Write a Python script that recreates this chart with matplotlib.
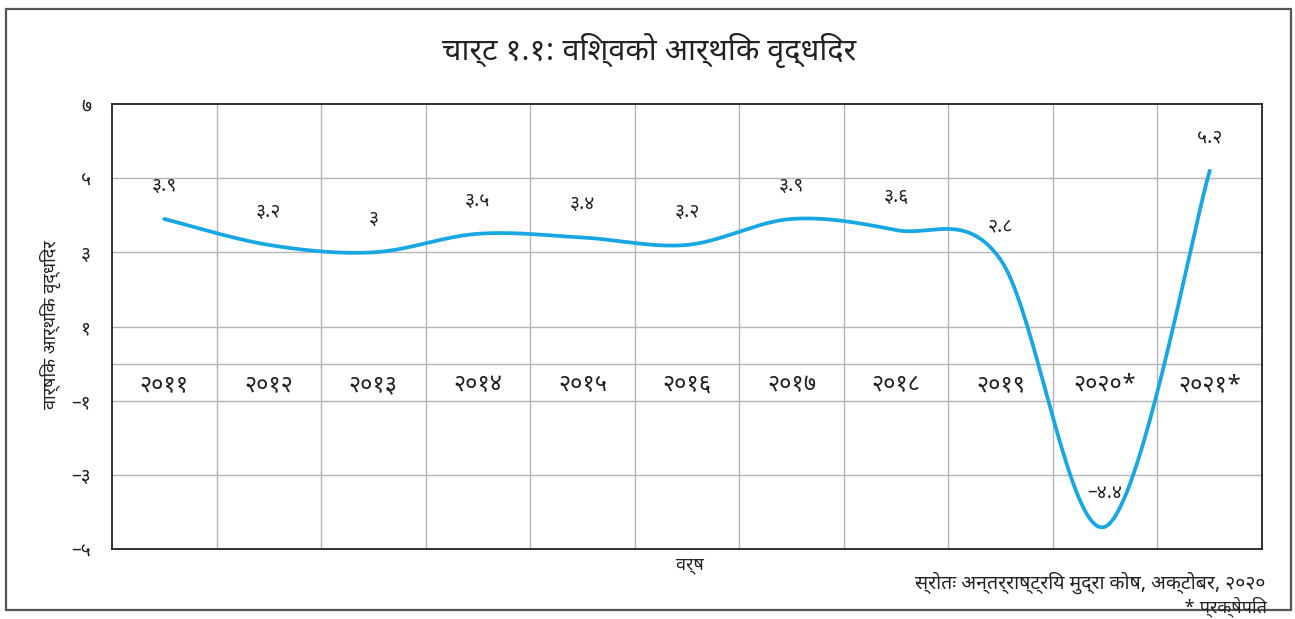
import matplotlib
matplotlib.use("Agg")
import matplotlib.pyplot as plt
import matplotlib.patches as patches
import numpy as np

# ---- data ----
years = [2011, 2012, 2013, 2014, 2015, 2016, 2017, 2018, 2019, 2020, 2021]
year_labels = ["२०११", "२०१२", "२०१३", "२०१४", "२०१५", "२०१६", "२०१७", "२०१८", "२०१९", "२०२०*", "२०२१*"]
growth = [3.9, 3.2, 3.0, 3.5, 3.4, 3.2, 3.9, 3.6, 2.8, -4.4, 5.2]
value_labels = ["३.९", "३.२", "३", "३.५", "३.४", "३.२", "३.९", "३.६", "२.८", "–४.४", "५.२"]
y_ticks = [-5, -3, -1, 1, 3, 5, 7]
y_tick_labels = ["–५", "–३", "–१", "१", "३", "५", "७"]
y_grid = [-3, -1, 0, 1, 3, 5]

title = "चार्ट १.१: विश्वको आर्थिक वृद्धिदर"
ylabel = "वार्षिक आर्थिक वृद्धिदर"
xlabel = "वर्ष"
source = "स्रोतः अन्तर्राष्ट्रिय मुद्रा कोष, अक्टोबर, २०२०"
note = "* प्रक्षेपित"

FAM = ["Noto Sans Devanagari", "Noto Sans Devanagari UI", "Mukta", "DejaVu Sans"]
plt.rcParams["font.family"] = FAM

LINE = "#17a8e3"
GRID = "#b4b4b4"
TXT = "#222222"


def catmull_rom(xs, ys, n=40):
    xs = np.asarray(xs, float)
    ys = np.asarray(ys, float)
    px = np.concatenate([[xs[0]], xs, [xs[-1]]])
    py = np.concatenate([[ys[0]], ys, [ys[-1]]])
    ox, oy = [], []
    for i in range(1, len(px) - 2):
        p0 = np.array([px[i], py[i]])
        p3 = np.array([px[i + 1], py[i + 1]])
        c1 = p0 + (np.array([px[i + 1], py[i + 1]]) - np.array([px[i - 1], py[i - 1]])) / 6.0
        c2 = p3 - (np.array([px[i + 2], py[i + 2]]) - np.array([px[i], py[i]])) / 6.0
        t = np.linspace(0, 1, n)[:, None]
        pts = ((1 - t) ** 3) * p0 + 3 * ((1 - t) ** 2) * t * c1 + 3 * (1 - t) * t ** 2 * c2 + t ** 3 * p3
        ox.extend(pts[:, 0])
        oy.extend(pts[:, 1])
    return np.array(ox), np.array(oy)


fig = plt.figure(figsize=(12.95, 6.19), dpi=100)
W, H = 1295, 619
ax = fig.add_axes([112 / W, 1 - 549 / H, (1262 - 112) / W, (549 - 104) / H])

ax.set_xlim(years[0] - 0.5, years[-1] + 0.5)
ax.set_ylim(-5, 7)

for g in y_grid:
    ax.axhline(g, color=GRID, lw=1.0, zorder=1)
for x in years[:-1]:
    ax.axvline(x + 0.5, color=GRID, lw=1.0, zorder=1)

sx, sy = catmull_rom(years, growth)
ax.plot(sx, sy, color=LINE, lw=2.7, solid_capstyle="round", zorder=3)

for x, y, lab in zip(years, growth, value_labels):
    ax.annotate(lab, (x, y), xytext=(0, 24), textcoords="offset points",
                ha="center", va="center", fontsize=14, color=TXT, zorder=4)

for x, lab in zip(years, year_labels):
    ax.text(x, -0.57, lab, ha="center", va="center", fontsize=17, color=TXT, zorder=4)

ax.set_xticks([])
ax.set_yticks(y_ticks)
ax.set_yticklabels(y_tick_labels, fontsize=14, color=TXT)
ax.tick_params(axis="y", length=0, pad=15)
for s in ax.spines.values():
    s.set_color(TXT)
    s.set_linewidth(1.3)

fig.text(50 / W, 1 - 325 / H, ylabel, rotation=90, ha="center", va="center",
         fontsize=13, color=TXT)
fig.text(690 / W, 1 - 565 / H, xlabel, ha="center", va="center", fontsize=13,
         fontweight="bold", color=TXT)
fig.text(649 / W, 1 - 50 / H, title, ha="center", va="center", fontsize=22,
         fontweight="bold", color=TXT)
fig.text(1265 / W, 1 - 583 / H, source, ha="right", va="center", fontsize=14,
         style="italic", color=TXT)
fig.text(1267 / W, 1 - 607 / H, note, ha="right", va="center", fontsize=13,
         color=TXT)

frame = patches.Rectangle((6 / W, 1 - 610 / H), (1291 - 6) / W, (610 - 9) / H,
                          transform=fig.transFigure, fill=False,
                          edgecolor="#555555", lw=1.6, zorder=0)
fig.patches.append(frame)

fig.savefig("out.png", dpi=100)
